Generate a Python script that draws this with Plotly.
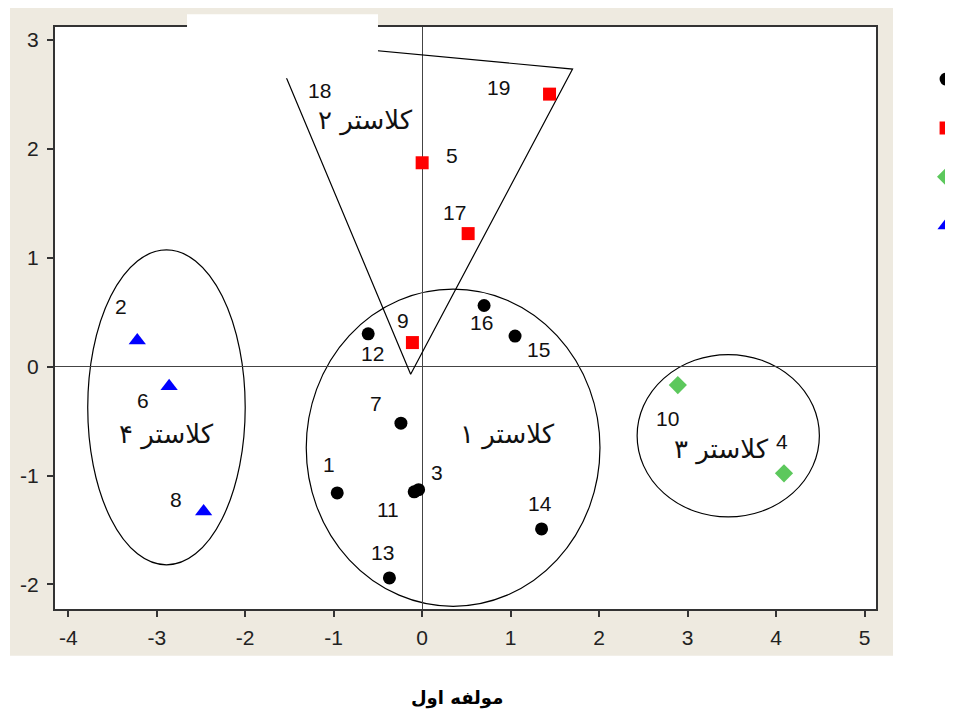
import plotly.graph_objects as go

# cluster 1 (black circles)
c1_id = ['1', '3', '11', '13', '14', '7', '12', '16', '15']
c1_x = [-0.96, -0.04, -0.09, -0.37, 1.35, -0.24, -0.61, 0.70, 1.05]
c1_y = [-1.16, -1.13, -1.15, -1.94, -1.49, -0.52, 0.30, 0.56, 0.28]

# cluster 2 (red squares)
c2_id = ['9', '5', '17', '19']
c2_x = [-0.11, 0.00, 0.52, 1.44]
c2_y = [0.22, 1.87, 1.22, 2.50]

# cluster 3 (green diamonds)
c3_id = ['10', '4']
c3_x = [2.89, 4.09]
c3_y = [-0.17, -0.98]

# cluster 4 (blue triangles)
c4_id = ['2', '6', '8']
c4_x = [-3.22, -2.86, -2.47]
c4_y = [0.24, -0.18, -1.33]

# point 18: only its label is visible
lone_id = '18'
lone_x = -1.16
lone_y = 2.53

# hand drawn cluster outlines
ell1_x = [-1.31, 2.01]
ell1_y = [-2.20, 0.71]
ell3_x = [2.43, 4.49]
ell3_y = [-1.38, 0.11]
ell4_x = [-3.78, -2.00]
ell4_y = [-1.82, 1.07]
tri2_x = [-1.71, 1.70, -0.13, -1.71]
tri2_y = [2.99, 2.73, -0.07, 2.99]

cluster_names = ['کلاستر ۱', 'کلاستر ۲', 'کلاستر ۳', 'کلاستر ۴']
cluster_name_x = [0.97, -0.64, 3.38, -2.89]
cluster_name_y = [-0.62, 2.26, -0.76, -0.62]

x_title = 'مولفه اول'
x_ticks = [-4, -3, -2, -1, 0, 1, 2, 3, 4, 5]
y_ticks = [-2, -1, 0, 1, 2, 3]

# label offsets in pixels (dx, dy) from the marker
lab_off = {'1': (-8, 28), '3': (18, 17), '11': (-26, -18), '13': (-7, 25),
           '14': (-2, 25), '7': (-25, 20), '12': (4, -20), '16': (-3, -17),
           '15': (23, -13), '9': (-9, 22), '5': (30, 7), '17': (-14, 21),
           '19': (-51, 7), '2': (-16, 34), '6': (-26, -14), '8': (-28, 12),
           '10': (-10, -33), '4': (-2, 32)}

num_font = dict(family='Liberation Sans', size=21, color='#111')
fa_font = dict(family='DejaVu Sans', size=26, color='#111')

fig = go.Figure()

# triangle of cluster 2
fig.add_trace(go.Scatter(x=tri2_x, y=tri2_y, mode='lines',
                         line=dict(color='black', width=1.2),
                         showlegend=False, hoverinfo='skip'))

groups = [
    (c1_x, c1_y, c1_id, 'circle', 13, 'black'),
    (c2_x, c2_y, c2_id, 'square', 13, '#FF0000'),
    (c3_x, c3_y, c3_id, 'diamond', 14, '#5CC85C'),
    (c4_x, c4_y, c4_id, 'triangle-up', 15, '#0000FF'),
]

annots = []
for i, (xs, ys, ids, sym, sz, col) in enumerate(groups):
    fig.add_trace(go.Scatter(x=xs, y=ys, mode='markers',
                             marker=dict(symbol=sym, size=sz, color=col),
                             name=cluster_names[i], legendgroup=str(i), text=ids))
    for px, py, t in zip(xs, ys, ids):
        dx, dy = lab_off[t]
        annots.append(dict(x=px, y=py, text=t, showarrow=False,
                           xshift=dx, yshift=dy, font=num_font))

annots.append(dict(x=lone_x, y=lone_y, text=lone_id, showarrow=False, font=num_font))

for t, px, py in zip(cluster_names, cluster_name_x, cluster_name_y):
    annots.append(dict(x=px, y=py, text=t, showarrow=False, font=fa_font))

annots.append(dict(x=0.4896, y=-0.1525, xref='paper', yref='paper', xanchor='center', yanchor='middle',
                   text='<b>' + x_title + '</b>', showarrow=False,
                   font=dict(family='DejaVu Sans', size=18, color='black')))

shapes = [
    # beige panel behind the chart
    dict(type='rect', xref='paper', yref='paper', x0=-0.0548, x1=1.0207, y0=-0.0803, y1=1.0356,
         fillcolor='#EEEAE0', line=dict(width=0), layer='below'),
    dict(type='rect', xref='paper', yref='paper', x0=0, x1=1, y0=0, y1=1,
         fillcolor='white', line=dict(width=0), layer='below'),
]
for ex, ey in [(ell1_x, ell1_y), (ell3_x, ell3_y), (ell4_x, ell4_y)]:
    shapes.append(dict(type='circle', xref='x', yref='y', x0=ex[0], x1=ex[1], y0=ey[0], y1=ey[1],
                       line=dict(color='black', width=1.2), layer='below'))
# blanked area at the top (erased in the source image)
shapes.append(dict(type='rect', xref='paper', yref='paper', x0=0.1608, x1=0.3934, y0=0.9118, y1=1.0218,
                   fillcolor='white', line=dict(width=0), layer='above'))

axis_common = dict(showgrid=False, zeroline=True, zerolinecolor='#444', zerolinewidth=1.2,
                   showline=True, mirror=True, linecolor='#333', linewidth=2,
                   ticks='outside', ticklen=6, tickwidth=1.5, tickcolor='#333',
                   tickfont=dict(family='Liberation Sans', size=21, color='#222'))

# page has an 8px body margin, so the figure is a bit smaller than the window
fig.update_layout(
    width=945, height=706,
    margin=dict(l=47, r=77, t=19, b=105, autoexpand=False),
    paper_bgcolor='white', plot_bgcolor='white',
    xaxis=dict(range=[-4.15, 5.13], tickvals=x_ticks, ticktext=[str(v) for v in x_ticks],
               ticklabelstandoff=3, **axis_common),
    yaxis=dict(range=[-2.225, 3.116], tickvals=y_ticks, ticktext=[str(v) for v in y_ticks],
               ticklabelstandoff=4, **axis_common),
    legend=dict(x=1.061, y=0.9395, xanchor='left', yanchor='top', bgcolor='rgba(0,0,0,0)',
                font=dict(size=16), traceorder='grouped', tracegroupgap=25,
                itemsizing='trace'),
    annotations=annots, shapes=shapes,
)

fig.write_html('out.html')
